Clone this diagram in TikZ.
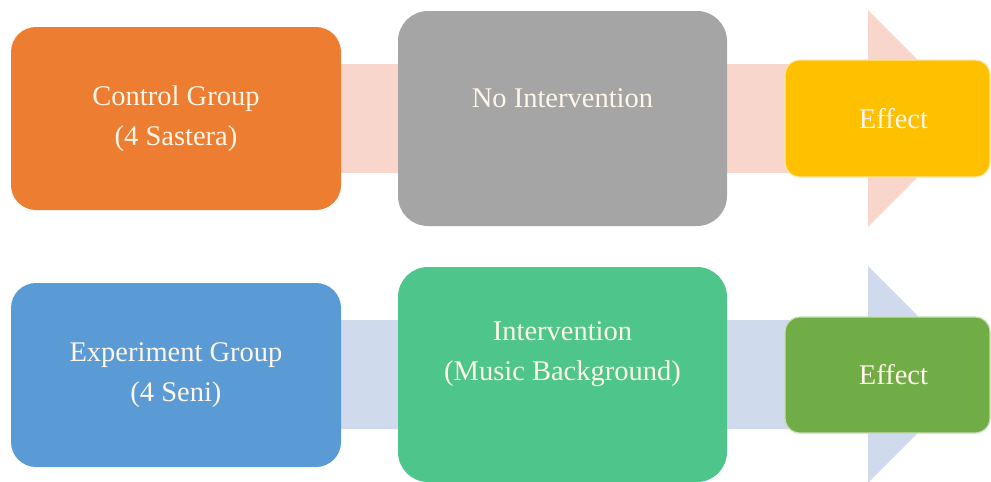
\documentclass[tikz,border=0pt]{standalone}
\usepackage{fontspec}
\setmainfont{Liberation Serif}
\definecolor{cOrange}{HTML}{ED7D31}
\definecolor{cGray}{HTML}{A5A5A5}
\definecolor{cYellow}{HTML}{FFC000}
\definecolor{cBlue}{HTML}{5B9BD5}
\definecolor{cTeal}{HTML}{4EC58B}
\definecolor{cGreen}{HTML}{70AD47}
\definecolor{cPink}{HTML}{F8D6CC}
\definecolor{cLBlue}{HTML}{CFDAEC}
\definecolor{cText}{HTML}{FFF6EA}
\begin{document}
\begin{tikzpicture}[x=1pt,y=-1pt,
  box/.style={rounded corners=#1, inner sep=0pt, text=cText, align=center,
    font=\fontsize{28.5}{40}\selectfont},
  txt/.style={text=cText, align=center, inner sep=0pt, font=\fontsize{28.5}{40}\selectfont},
  effbox/.style={box=15pt, draw=#1!40!white, line width=1.2pt}
]
\useasboundingbox (0,0) rectangle (991,482);
% background arrows
\fill[cPink] (330,64) -- (868,64) -- (868,10) -- (976,118.5) -- (868,227) -- (868,173) -- (330,173) -- cycle;
\fill[cLBlue] (330,320) -- (868,320) -- (868,266) -- (976,374.5) -- (868,483) -- (868,429) -- (330,429) -- cycle;
% row 1
\node[box=25pt, fill=cOrange, minimum width=330pt, minimum height=183pt] (ctrl) at (176,118.5) {Control Group\\(4 Sastera)};
\node[box=30pt, fill=cGray, minimum width=329pt, minimum height=215pt] (noint) at (562.5,118.5) {};
\node[txt] (nointtxt) at (562.5,98) {No Intervention};
\node[effbox=cYellow, fill=cYellow, minimum width=205pt, minimum height=117pt] (eff1) at (887.5,118.5) {\hspace*{12pt}Effect};
% row 2
\node[box=25pt, fill=cBlue, minimum width=330pt, minimum height=184pt] (exp) at (176,375) {Experiment Group\\(4 Seni)};
\node[box=30pt, fill=cTeal, minimum width=329pt, minimum height=215pt] (int) at (562.5,374.5) {};
\node[txt] (inttxt) at (562.5,354.5) {Intervention\\(Music Background)};
\node[effbox=cGreen, fill=cGreen, minimum width=205pt, minimum height=116pt] (eff2) at (887.5,375) {\hspace*{12pt}Effect};
\end{tikzpicture}
\end{document}
